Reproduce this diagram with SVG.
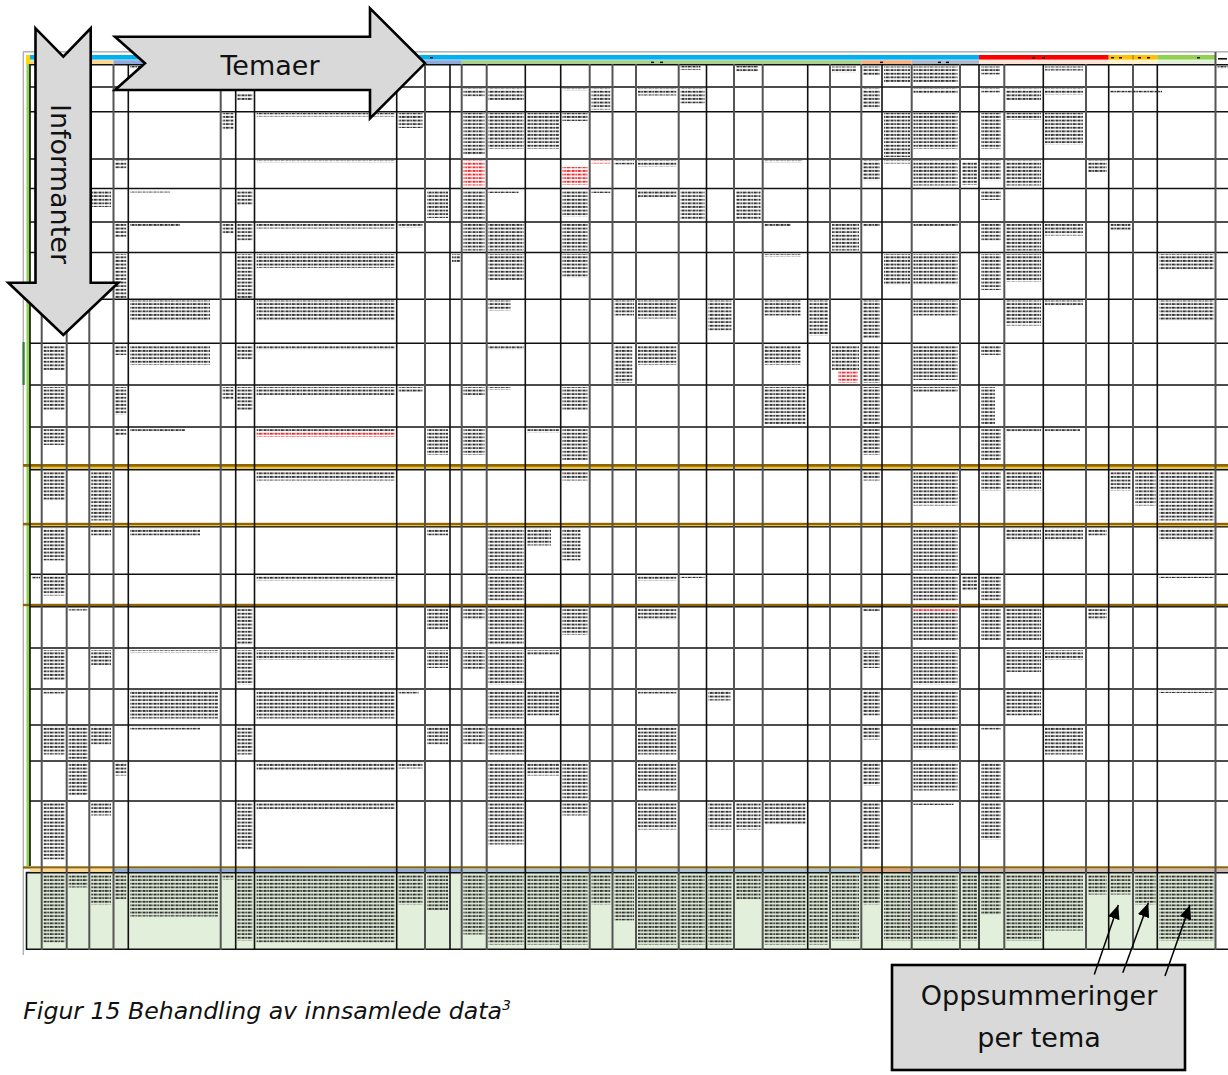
<svg xmlns="http://www.w3.org/2000/svg" width="1228" height="1075" viewBox="0 0 1228 1075">
<style>
  .k { stroke:#111; stroke-width:1.6; fill:none; }
  .g { stroke:#555; stroke-width:2; fill:none; }
  .shape { fill:#d9d9d9; stroke:#000; stroke-width:2.6; stroke-linejoin:miter; }
  .lbl { font-family:"DejaVu Sans", Verdana, sans-serif; font-size:27px; fill:#111; }
  .cap { font-family:"DejaVu Sans", Verdana, sans-serif; font-size:23.6px; font-style:italic; fill:#111; }
  .conn { stroke:#000; stroke-width:1.5; fill:none; marker-end:url(#ah); }
</style>
<defs>
  <!-- tiny illegible cell text rendered as rows of dashes -->
  <pattern id="txt" width="11" height="3.6" patternUnits="userSpaceOnUse">
    <rect x="0" y="0.8" width="2.6" height="1.8" fill="#2a2a2a"/>
    <rect x="3.3" y="0.8" width="1.6" height="1.8" fill="#2a2a2a"/>
    <rect x="5.6" y="0.8" width="3.2" height="1.8" fill="#2a2a2a"/>
    <rect x="9.4" y="0.8" width="1.1" height="1.8" fill="#2a2a2a"/>
  </pattern>
  <pattern id="txtRed" width="11" height="3.6" patternUnits="userSpaceOnUse">
    <rect x="0" y="0.8" width="2.6" height="1.8" fill="#e8262a"/>
    <rect x="3.3" y="0.8" width="1.6" height="1.8" fill="#e8262a"/>
    <rect x="5.6" y="0.8" width="3.2" height="1.8" fill="#e8262a"/>
    <rect x="9.4" y="0.8" width="1.1" height="1.8" fill="#e8262a"/>
  </pattern>
  <marker id="ah" markerUnits="userSpaceOnUse" markerWidth="15" markerHeight="12" refX="14" refY="6" orient="auto">
    <path d="M0,0 L14,6 L0,12 z" fill="#000"/>
  </marker>
</defs>

<rect width="1228" height="1075" fill="#fff"/>

<!-- spreadsheet -->
<g id="sheet">
  <!-- sheet frame -->
  <rect x="23" y="51" width="1205" height="1.6" fill="#b5b5b5"/>
  <rect x="22.6" y="52" width="1.4" height="903" fill="#b0b0b0"/>
  <rect x="22.5" y="342" width="2.2" height="43" fill="#2e7d32"/>
  <rect x="26.5" y="60" width="3.6" height="806" fill="#92d050"/>
  <rect x="26" y="55" width="4" height="9" fill="#ffd800"/>

  <!-- theme header bars -->
  <rect x="30" y="55" width="949" height="4.6" fill="#00b0f0"/>
  <rect x="979" y="55" width="129.7" height="4.6" fill="#ff0000"/>
  <rect x="1108.7" y="55" width="48.6" height="4.6" fill="#ffc000"/>
  <rect x="1157.3" y="55" width="58.2" height="4.6" fill="#92d050"/>
  <rect x="1132.6" y="55" width="0.8" height="4.6" fill="#7a5c00"/>

  <rect x="30" y="60.2" width="83.5" height="4" fill="#fcd68c"/>
  <rect x="113.5" y="60.2" width="348.2" height="4" fill="#8eaadb"/>
  <rect x="461.7" y="60.2" width="399.6" height="4" fill="#a9d18e"/>
  <rect x="861.3" y="60.2" width="50.4" height="4" fill="#f4b183"/>
  <rect x="911.7" y="60.2" width="67.3" height="4" fill="#adb9ca"/>
  <rect x="979" y="60.2" width="129.7" height="4" fill="#fbe5d6"/>
  <rect x="1108.7" y="60.2" width="48.6" height="4" fill="#fff2cc"/>
  <rect x="1157.3" y="60.2" width="58.2" height="4" fill="#e2f0d9"/>

  <!-- small group labels inside the bars -->
  <g fill="#111">
    <rect x="430" y="57" width="3" height="1.5"/>
    <rect x="651" y="61.6" width="3" height="1.5"/><rect x="660" y="61.6" width="3" height="1.5"/>
    <rect x="880" y="61.6" width="3" height="1.5"/>
    <rect x="938" y="61.6" width="3" height="1.5"/><rect x="946" y="61.6" width="3" height="1.5"/>
    <rect x="1032" y="57" width="3" height="1.5"/><rect x="1042" y="57" width="3" height="1.5"/>
    <rect x="1111" y="57" width="3" height="1.5"/><rect x="1119" y="57" width="3" height="1.5"/>
    <rect x="1138" y="57" width="3" height="1.5"/><rect x="1147" y="57" width="3" height="1.5"/>
    <rect x="1197" y="57" width="3" height="1.5"/>
    <rect x="1218" y="58" width="9" height="1.6"/>
  </g>

  <!-- summary row background -->
  <rect x="26.5" y="872.5" width="1189" height="76.8" fill="#e2efda"/>

  <!-- horizontal rules -->
  <g class="k">
    <line x1="30" y1="64.8" x2="1228" y2="64.8"/>
    <line x1="30" y1="87" x2="1228" y2="87"/>
    <line x1="30" y1="111.7" x2="1228" y2="111.7"/>
    <line x1="30" y1="159" x2="1228" y2="159"/>
    <line x1="30" y1="188.5" x2="1228" y2="188.5"/>
    <line x1="30" y1="222" x2="1228" y2="222"/>
    <line x1="30" y1="252.5" x2="1228" y2="252.5"/>
    <line x1="30" y1="299.3" x2="1228" y2="299.3"/>
    <line x1="30" y1="343.3" x2="1228" y2="343.3"/>
    <line x1="30" y1="385" x2="1228" y2="385"/>
    <line x1="30" y1="427" x2="1228" y2="427"/>
    <line x1="30" y1="469.6" x2="1228" y2="469.6"/>
    <line x1="30" y1="526.8" x2="1228" y2="526.8"/>
    <line x1="30" y1="574.3" x2="1228" y2="574.3"/>
    <line x1="30" y1="606.8" x2="1228" y2="606.8"/>
    <line x1="30" y1="648" x2="1228" y2="648"/>
    <line x1="30" y1="689" x2="1228" y2="689"/>
    <line x1="30" y1="725" x2="1228" y2="725"/>
    <line x1="30" y1="761" x2="1228" y2="761"/>
    <line x1="30" y1="801" x2="1228" y2="801"/>
    <line x1="26" y1="872.6" x2="1228" y2="872.6"/>
    <line x1="26" y1="949.3" x2="1228" y2="949.3"/>
  </g>

  <!-- double rules between informant groups -->
  <g>
    <rect x="23" y="464" width="1205" height="2.8" fill="#8b6508"/>
    <rect x="30" y="467" width="1198" height="1.4" fill="#ffc000"/>
    <rect x="23" y="522.8" width="1205" height="2.6" fill="#8b6508"/>
    <rect x="30" y="525.4" width="1198" height="0.8" fill="#ffc000"/>
    <rect x="23" y="603.8" width="1205" height="2.4" fill="#8b6508"/>
    <rect x="23" y="866.3" width="1205" height="2.3" fill="#8b6508"/>
    <rect x="30" y="868.7" width="83.5" height="3.2" fill="#fcd68c"/>
    <rect x="113.5" y="868.7" width="348.2" height="3.2" fill="#8eaadb"/>
    <rect x="461.7" y="868.7" width="399.6" height="3.2" fill="#a9c4d8"/>
    <rect x="861.3" y="868.7" width="50.4" height="3.2" fill="#d6a487"/>
    <rect x="911.7" y="868.7" width="67.3" height="3.2" fill="#adb9ca"/>
    <rect x="979" y="868.7" width="249" height="3.2" fill="#c9b7b0"/>
  </g>

  <!-- column rules -->
  <g class="k">
    <line x1="30" y1="64" x2="30" y2="866"/>
    <line x1="26.5" y1="872" x2="26.5" y2="950"/>
    <line x1="128.3" y1="64" x2="128.3" y2="950"/>
    <line x1="235.7" y1="64" x2="235.7" y2="950"/>
    <line x1="254.5" y1="64" x2="254.5" y2="950"/>
    <line x1="396.7" y1="64" x2="396.7" y2="950"/>
    <line x1="450" y1="64" x2="450" y2="950"/>
    <line x1="525.3" y1="64" x2="525.3" y2="950"/>
    <line x1="560.7" y1="64" x2="560.7" y2="950"/>
    <line x1="706.5" y1="64" x2="706.5" y2="950"/>
    <line x1="807.7" y1="64" x2="807.7" y2="950"/>
    <line x1="882" y1="64" x2="882" y2="950"/>
    <line x1="979" y1="64" x2="979" y2="950"/>
    <line x1="1043.3" y1="64" x2="1043.3" y2="950"/>
    <line x1="1108.7" y1="64" x2="1108.7" y2="950"/>
    <line x1="1157.3" y1="64" x2="1157.3" y2="950"/>
  </g>
  <g class="g">
    <line x1="41.7" y1="64" x2="41.7" y2="950"/>
    <line x1="66.7" y1="64" x2="66.7" y2="950"/>
    <line x1="89.3" y1="64" x2="89.3" y2="950"/>
    <line x1="113.5" y1="64" x2="113.5" y2="950"/>
    <line x1="220.7" y1="64" x2="220.7" y2="950"/>
    <line x1="425" y1="64" x2="425" y2="950"/>
    <line x1="461.7" y1="64" x2="461.7" y2="950"/>
    <line x1="486.7" y1="64" x2="486.7" y2="950"/>
    <line x1="589.7" y1="64" x2="589.7" y2="950"/>
    <line x1="612.5" y1="64" x2="612.5" y2="950"/>
    <line x1="636" y1="64" x2="636" y2="950"/>
    <line x1="678.7" y1="64" x2="678.7" y2="950"/>
    <line x1="734" y1="64" x2="734" y2="950"/>
    <line x1="762.7" y1="64" x2="762.7" y2="950"/>
    <line x1="830" y1="64" x2="830" y2="950"/>
    <line x1="861.3" y1="64" x2="861.3" y2="950"/>
    <line x1="911.7" y1="64" x2="911.7" y2="950"/>
    <line x1="960" y1="64" x2="960" y2="950"/>
    <line x1="1004.3" y1="64" x2="1004.3" y2="950"/>
    <line x1="1086" y1="64" x2="1086" y2="950"/>
    <line x1="1133" y1="64" x2="1133" y2="950"/>
    <line x1="1215.5" y1="52" x2="1215.5" y2="950"/>
  </g>

  <!-- cell contents -->
  <g id="cell-text" fill="url(#txt)">
    <!-- row 0 -->
    <rect x="130" y="66" width="10" height="2.5"/>
    <rect x="680.5" y="66" width="20" height="4"/>
    <rect x="736" y="66" width="22" height="6"/>
    <rect x="832" y="66.5" width="24" height="6"/>
    <rect x="863" y="66.5" width="17" height="9"/>
    <rect x="884" y="66.5" width="26" height="16"/>
    <rect x="913.5" y="66.5" width="44" height="16"/>
    <rect x="981" y="66.5" width="19" height="8"/>
    <rect x="1045" y="66.5" width="38" height="4"/>
    <rect x="1217.5" y="66" width="10" height="3"/>
    <!-- row 1 -->
    <rect x="237.5" y="93" width="15" height="8"/>
    <rect x="463.5" y="88.5" width="21" height="8"/>
    <rect x="488.5" y="88.5" width="35" height="12"/>
    <rect x="562.5" y="88.5" width="25" height="2.5"/>
    <rect x="591.5" y="88.5" width="19" height="21"/>
    <rect x="638" y="88.5" width="38.5" height="7"/>
    <rect x="680.5" y="88.5" width="24" height="15"/>
    <rect x="863" y="88.5" width="17" height="20"/>
    <rect x="913.5" y="88.5" width="44" height="5"/>
    <rect x="981" y="88.5" width="19" height="4"/>
    <rect x="1006" y="88.5" width="35" height="12"/>
    <rect x="1045" y="88.5" width="38" height="6"/>
    <rect x="1110" y="90" width="52" height="2.5"/>
    <!-- row 2 -->
    <rect x="222.5" y="113" width="11" height="17"/>
    <rect x="256.5" y="113" width="138" height="3.5"/>
    <rect x="398.5" y="113" width="24" height="15"/>
    <rect x="463.5" y="113" width="21" height="42"/>
    <rect x="488.5" y="113" width="35" height="36"/>
    <rect x="527" y="113" width="32" height="36"/>
    <rect x="562.5" y="113" width="25" height="8"/>
    <rect x="884" y="113" width="26" height="44"/>
    <rect x="913.5" y="113" width="44" height="36"/>
    <rect x="981" y="113" width="20" height="36"/>
    <rect x="1006" y="113" width="35" height="7"/>
    <rect x="1045" y="113" width="38" height="32"/>
    <!-- row 3 -->
    <rect x="115" y="160.5" width="11.5" height="8"/>
    <rect x="256.5" y="160.5" width="138" height="2.5"/>
    <rect x="614.5" y="160.5" width="19.5" height="4"/>
    <rect x="638" y="160.5" width="38.5" height="6"/>
    <rect x="764.5" y="160.5" width="38" height="2.5"/>
    <rect x="863" y="160.5" width="17" height="20"/>
    <rect x="884" y="160.5" width="26" height="3"/>
    <rect x="913.5" y="160.5" width="44" height="25"/>
    <rect x="962" y="162" width="15" height="23"/>
    <rect x="981" y="160.5" width="20" height="20"/>
    <rect x="1006" y="160.5" width="35" height="25"/>
    <rect x="1088" y="160.5" width="18.5" height="12"/>
    <!-- row 4 -->
    <rect x="91" y="190" width="20" height="17"/>
    <rect x="130" y="190" width="40" height="2.5"/>
    <rect x="237.5" y="190" width="15" height="15"/>
    <rect x="427" y="190" width="21" height="28"/>
    <rect x="463.5" y="190" width="21" height="30"/>
    <rect x="488.5" y="190" width="30" height="3"/>
    <rect x="562.5" y="190" width="25" height="27"/>
    <rect x="591.5" y="190" width="19" height="3"/>
    <rect x="638" y="190" width="38.5" height="7"/>
    <rect x="680.5" y="190" width="24" height="30"/>
    <rect x="736" y="190" width="24.5" height="30"/>
    <rect x="981" y="190" width="20" height="10"/>
    <!-- row 5 -->
    <rect x="115" y="223.5" width="11.5" height="14"/>
    <rect x="130" y="223.5" width="50" height="2.5"/>
    <rect x="222.5" y="223.5" width="11" height="10"/>
    <rect x="237.5" y="223.5" width="15" height="17"/>
    <rect x="256.5" y="223.5" width="138" height="5"/>
    <rect x="398.5" y="223.5" width="24" height="4"/>
    <rect x="463.5" y="223.5" width="21" height="27"/>
    <rect x="488.5" y="223.5" width="35" height="27"/>
    <rect x="562.5" y="223.5" width="25" height="27"/>
    <rect x="764.5" y="223.5" width="26" height="3"/>
    <rect x="832" y="223.5" width="27" height="27"/>
    <rect x="863" y="223.5" width="17" height="3"/>
    <rect x="913.5" y="223.5" width="44" height="3"/>
    <rect x="981" y="223.5" width="20" height="17"/>
    <rect x="1006" y="223.5" width="35" height="27"/>
    <rect x="1045" y="223.5" width="38" height="12"/>
    <rect x="1110.5" y="223.5" width="20" height="7"/>
    <!-- row 6 -->
    <rect x="115" y="254" width="11.5" height="44"/>
    <rect x="237.5" y="254" width="15" height="44"/>
    <rect x="256.5" y="254" width="138" height="14"/>
    <rect x="452" y="254" width="8" height="8"/>
    <rect x="488.5" y="254" width="35" height="26"/>
    <rect x="562.5" y="254" width="25" height="24"/>
    <rect x="764.5" y="254" width="36" height="2.5"/>
    <rect x="884" y="254" width="26" height="31"/>
    <rect x="913.5" y="254" width="44" height="31"/>
    <rect x="981" y="254" width="20" height="36"/>
    <rect x="1006" y="254" width="35" height="28"/>
    <rect x="1159.5" y="254" width="54" height="16"/>
    <!-- row 7 -->
    <rect x="130" y="300.5" width="80" height="20"/>
    <rect x="256.5" y="300.5" width="138" height="20"/>
    <rect x="488.5" y="300.5" width="22" height="10"/>
    <rect x="614.5" y="300.5" width="19.5" height="15"/>
    <rect x="638" y="300.5" width="38.5" height="18"/>
    <rect x="708.5" y="300.5" width="23.5" height="30"/>
    <rect x="764.5" y="300.5" width="36" height="15"/>
    <rect x="809.5" y="300.5" width="18.5" height="35"/>
    <rect x="863" y="300.5" width="17" height="38"/>
    <rect x="913.5" y="300.5" width="44" height="15"/>
    <rect x="1006" y="300.5" width="35" height="25"/>
    <rect x="1045" y="300.5" width="38" height="5"/>
    <rect x="1159.5" y="300.5" width="54" height="20"/>
    <!-- row 8 -->
    <rect x="43.5" y="345" width="21" height="25"/>
    <rect x="115" y="345" width="11.5" height="10"/>
    <rect x="130" y="345" width="80" height="20"/>
    <rect x="237.5" y="345" width="15" height="15"/>
    <rect x="256.5" y="345" width="138" height="5"/>
    <rect x="488.5" y="345" width="35" height="5"/>
    <rect x="614.5" y="345" width="18" height="38"/>
    <rect x="638" y="345" width="38.5" height="20"/>
    <rect x="764.5" y="345" width="36" height="20"/>
    <rect x="832" y="345" width="27" height="26"/>
    <rect x="863" y="345" width="17" height="38"/>
    <rect x="913.5" y="345" width="44" height="35"/>
    <rect x="981" y="345" width="20" height="10"/>
    <!-- row 9 -->
    <rect x="43.5" y="387" width="21" height="23"/>
    <rect x="115" y="387" width="11.5" height="28"/>
    <rect x="222.5" y="387" width="11" height="13"/>
    <rect x="237.5" y="387" width="15" height="23"/>
    <rect x="256.5" y="387" width="138" height="8"/>
    <rect x="398.5" y="387" width="24" height="5"/>
    <rect x="463.5" y="387" width="21" height="8"/>
    <rect x="488.5" y="387" width="22" height="3"/>
    <rect x="562.5" y="387" width="25" height="23"/>
    <rect x="764.5" y="387" width="41" height="38"/>
    <rect x="863" y="387" width="17" height="38"/>
    <rect x="913.5" y="387" width="44" height="5"/>
    <rect x="981" y="387" width="14" height="38"/>
    <!-- row 10 -->
    <rect x="43.5" y="429" width="21" height="16"/>
    <rect x="115" y="429" width="11.5" height="6"/>
    <rect x="130" y="429" width="55" height="2.5"/>
    <rect x="256.5" y="429" width="138" height="4"/>
    <rect x="427" y="429" width="21" height="26"/>
    <rect x="463.5" y="429" width="21" height="26"/>
    <rect x="527" y="429" width="32" height="4"/>
    <rect x="562.5" y="429" width="25" height="31"/>
    <rect x="863" y="429" width="17" height="26"/>
    <rect x="981" y="429" width="20" height="31"/>
    <rect x="1006" y="429" width="35" height="3"/>
    <rect x="1045" y="429" width="35" height="2.5"/>
    <!-- row 11 -->
    <rect x="43.5" y="471.5" width="21" height="29"/>
    <rect x="91" y="471.5" width="20" height="49"/>
    <rect x="256.5" y="471.5" width="138" height="9"/>
    <rect x="562.5" y="471.5" width="25" height="9"/>
    <rect x="863" y="471.5" width="17" height="9"/>
    <rect x="913.5" y="471.5" width="44" height="34"/>
    <rect x="981" y="471.5" width="20" height="19"/>
    <rect x="1006" y="471.5" width="35" height="19"/>
    <rect x="1110.5" y="471.5" width="20" height="19"/>
    <rect x="1135" y="471.5" width="20.5" height="34"/>
    <rect x="1159.5" y="471.5" width="54" height="49"/>
    <!-- row 12 -->
    <rect x="43.5" y="528.5" width="21" height="32"/>
    <rect x="91" y="528.5" width="20" height="7"/>
    <rect x="130" y="528.5" width="70" height="7"/>
    <rect x="427" y="528.5" width="21" height="7"/>
    <rect x="488.5" y="528.5" width="35" height="42"/>
    <rect x="527" y="528.5" width="24" height="17"/>
    <rect x="562.5" y="528.5" width="18" height="32"/>
    <rect x="913.5" y="528.5" width="44" height="42"/>
    <rect x="1006" y="528.5" width="35" height="12"/>
    <rect x="1045" y="528.5" width="38" height="12"/>
    <rect x="1088" y="528.5" width="18.5" height="7"/>
    <rect x="1159.5" y="528.5" width="54" height="12"/>
    <!-- row 13 -->
    <rect x="32" y="575.5" width="8" height="3"/>
    <rect x="43.5" y="575.5" width="21" height="20"/>
    <rect x="256.5" y="575.5" width="138" height="5"/>
    <rect x="488.5" y="575.5" width="35" height="25"/>
    <rect x="638" y="575.5" width="38.5" height="5"/>
    <rect x="680.5" y="575.5" width="24" height="2.5"/>
    <rect x="913.5" y="575.5" width="44" height="25"/>
    <rect x="962" y="575.5" width="15" height="15"/>
    <rect x="981" y="575.5" width="20" height="25"/>
    <rect x="1159.5" y="575.5" width="54" height="2.5"/>
    <!-- row 14 -->
    <rect x="68.5" y="608" width="19" height="2.5"/>
    <rect x="237.5" y="608" width="15" height="37"/>
    <rect x="427" y="608" width="21" height="22"/>
    <rect x="463.5" y="608" width="21" height="12"/>
    <rect x="488.5" y="608" width="35" height="37"/>
    <rect x="562.5" y="608" width="25" height="27"/>
    <rect x="638" y="608" width="38.5" height="12"/>
    <rect x="863" y="608" width="17" height="3"/>
    <rect x="913.5" y="611.6" width="44" height="29"/>
    <rect x="981" y="608" width="20" height="32"/>
    <rect x="1006" y="608" width="35" height="32"/>
    <rect x="1088" y="608" width="18.5" height="12"/>
    <!-- row 15 -->
    <rect x="43.5" y="650" width="21" height="30"/>
    <rect x="91" y="650" width="20" height="15"/>
    <rect x="130" y="650" width="88" height="2.5"/>
    <rect x="237.5" y="650" width="15" height="35"/>
    <rect x="256.5" y="650" width="138" height="10"/>
    <rect x="427" y="650" width="21" height="18"/>
    <rect x="463.5" y="650" width="21" height="20"/>
    <rect x="488.5" y="650" width="35" height="35"/>
    <rect x="527" y="650" width="32" height="5"/>
    <rect x="863" y="650" width="17" height="18"/>
    <rect x="913.5" y="650" width="44" height="35"/>
    <rect x="1006" y="650" width="35" height="22"/>
    <rect x="1045" y="650" width="38" height="10"/>
    <!-- row 16 -->
    <rect x="43.5" y="690.5" width="21" height="3"/>
    <rect x="130" y="690.5" width="88" height="28"/>
    <rect x="256.5" y="690.5" width="138" height="28"/>
    <rect x="398.5" y="690.5" width="20" height="3"/>
    <rect x="488.5" y="690.5" width="35" height="28"/>
    <rect x="527" y="690.5" width="32" height="25"/>
    <rect x="638" y="690.5" width="38.5" height="3"/>
    <rect x="708.5" y="690.5" width="22" height="10"/>
    <rect x="863" y="690.5" width="17" height="25"/>
    <rect x="913.5" y="690.5" width="44" height="30"/>
    <rect x="1006" y="690.5" width="35" height="25"/>
    <rect x="1159.5" y="690.5" width="54" height="2.5"/>
    <!-- row 17 -->
    <rect x="43.5" y="726.5" width="21" height="28"/>
    <rect x="68.5" y="726.5" width="19" height="33"/>
    <rect x="91" y="726.5" width="20" height="18"/>
    <rect x="130" y="726.5" width="70" height="3"/>
    <rect x="237.5" y="726.5" width="15" height="28"/>
    <rect x="427" y="726.5" width="21" height="18"/>
    <rect x="463.5" y="726.5" width="21" height="18"/>
    <rect x="488.5" y="726.5" width="35" height="28"/>
    <rect x="638" y="726.5" width="38.5" height="28"/>
    <rect x="863" y="726.5" width="17" height="13"/>
    <rect x="913.5" y="726.5" width="44" height="23"/>
    <rect x="981" y="726.5" width="20" height="3"/>
    <rect x="1045" y="726.5" width="38" height="28"/>
    <!-- row 18 -->
    <rect x="68.5" y="762.5" width="19" height="33"/>
    <rect x="115" y="762.5" width="11.5" height="13"/>
    <rect x="256.5" y="762.5" width="138" height="8"/>
    <rect x="398.5" y="762.5" width="24" height="6"/>
    <rect x="488.5" y="762.5" width="35" height="37"/>
    <rect x="527" y="762.5" width="32" height="13"/>
    <rect x="562.5" y="762.5" width="25" height="37"/>
    <rect x="638" y="762.5" width="38.5" height="28"/>
    <rect x="863" y="762.5" width="17" height="23"/>
    <rect x="913.5" y="762.5" width="44" height="28"/>
    <rect x="981" y="762.5" width="20" height="37"/>
    <!-- row 19 -->
    <rect x="43.5" y="802.5" width="21" height="57"/>
    <rect x="91" y="802.5" width="20" height="13"/>
    <rect x="237.5" y="802.5" width="15" height="47"/>
    <rect x="256.5" y="802.5" width="138" height="7"/>
    <rect x="488.5" y="802.5" width="35" height="42"/>
    <rect x="562.5" y="802.5" width="25" height="13"/>
    <rect x="638" y="802.5" width="38.5" height="27"/>
    <rect x="708.5" y="802.5" width="23.5" height="27"/>
    <rect x="736" y="802.5" width="24.5" height="27"/>
    <rect x="764.5" y="802.5" width="41" height="22"/>
    <rect x="863" y="802.5" width="17" height="47"/>
    <rect x="913.5" y="802.5" width="40" height="2.5"/>
    <rect x="981" y="802.5" width="20" height="37"/>
    <!-- summary row -->
    <rect x="43.5" y="874.5" width="21" height="68"/>
    <rect x="68.5" y="874.5" width="19" height="13"/>
    <rect x="91" y="874.5" width="20" height="30"/>
    <rect x="115" y="874.5" width="11.5" height="25"/>
    <rect x="130" y="874.5" width="88" height="42"/>
    <rect x="222.5" y="874.5" width="11" height="5"/>
    <rect x="237.5" y="874.5" width="15" height="66"/>
    <rect x="256.5" y="874.5" width="138" height="68"/>
    <rect x="398.5" y="874.5" width="24" height="30"/>
    <rect x="427" y="874.5" width="21" height="36"/>
    <rect x="463.5" y="874.5" width="21" height="60"/>
    <rect x="488.5" y="874.5" width="35" height="70"/>
    <rect x="527" y="874.5" width="32" height="70"/>
    <rect x="562.5" y="874.5" width="25" height="70"/>
    <rect x="591.5" y="874.5" width="19" height="30"/>
    <rect x="614.5" y="874.5" width="19.5" height="46"/>
    <rect x="638" y="874.5" width="38.5" height="70"/>
    <rect x="680.5" y="874.5" width="24" height="70"/>
    <rect x="708.5" y="874.5" width="23.5" height="70"/>
    <rect x="736" y="874.5" width="24.5" height="25"/>
    <rect x="764.5" y="874.5" width="41" height="70"/>
    <rect x="809.5" y="874.5" width="18.5" height="70"/>
    <rect x="832" y="874.5" width="27" height="66"/>
    <rect x="863" y="874.5" width="17" height="30"/>
    <rect x="884" y="874.5" width="26" height="66"/>
    <rect x="913.5" y="874.5" width="44" height="66"/>
    <rect x="962" y="874.5" width="15" height="66"/>
    <rect x="981" y="874.5" width="20" height="40"/>
    <rect x="1006" y="874.5" width="35" height="66"/>
    <rect x="1045" y="874.5" width="38" height="56"/>
    <rect x="1088" y="874.5" width="18.5" height="20"/>
    <rect x="1110.5" y="874.5" width="20" height="20"/>
    <rect x="1135" y="874.5" width="20.5" height="30"/>
    <rect x="1159.5" y="874.5" width="54" height="66"/>
  </g>
  <g id="cell-text-red" fill="url(#txtRed)">
    <rect x="463.5" y="160.5" width="21" height="25"/>
    <rect x="562.5" y="167" width="25" height="18"/>
    <rect x="591.5" y="160.5" width="19" height="3"/>
    <rect x="256.5" y="433" width="138" height="4"/>
    <rect x="838" y="371" width="20" height="12"/>
    <rect x="913.5" y="608" width="44" height="3.6"/>
  </g>
</g>

<!-- direction arrow: themes -->
<g id="temaer">
  <polygon class="shape" points="115,36.7 370,36.7 370,8.3 425,63.3 370,118.3 370,90 115,90 145,63.3"/>
  <text class="lbl" x="270" y="75" text-anchor="middle">Temaer</text>
</g>

<!-- direction arrow: informants -->
<g id="informanter">
  <polygon class="shape" points="35.5,28.3 63.3,56.7 90.7,28.3 90.7,282.7 118.3,282.7 63.3,335 8.3,282.7 35.5,282.7"/>
  <text class="lbl" transform="translate(51,184) rotate(90)" text-anchor="middle">Informanter</text>
</g>

<!-- callout box -->
<g id="oppsummeringer">
  <rect class="shape" x="892" y="965" width="293" height="105"/>
  <text class="lbl" x="1039" y="1005" text-anchor="middle">Oppsummeringer</text>
  <text class="lbl" x="1039" y="1047" text-anchor="middle">per tema</text>
</g>

<!-- callout pointers -->
<g id="connectors">
  <line class="conn" x1="1094.3" y1="974.5" x2="1118.3" y2="905"/>
  <line class="conn" x1="1122.8" y1="972.7" x2="1148.3" y2="903"/>
  <line class="conn" x1="1165" y1="976" x2="1190" y2="905"/>
</g>

<!-- figure caption -->
<g id="caption">
  <text class="cap" x="23.3" y="1019">Figur 15 Behandling av innsamlede data<tspan font-size="14" dy="-9">3</tspan></text>
</g>
</svg>
